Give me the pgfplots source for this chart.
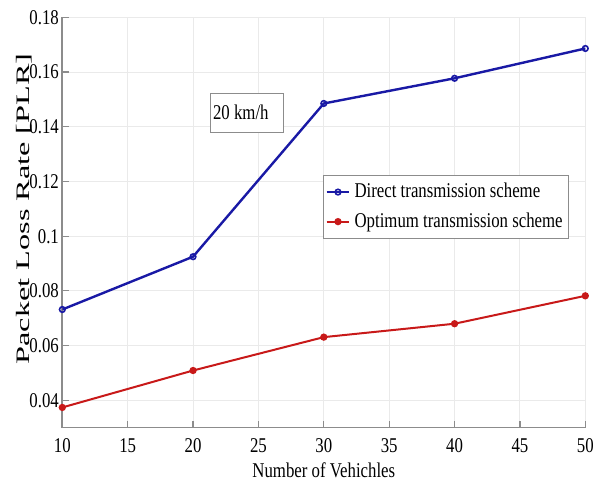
\documentclass[border=0pt]{standalone}
\usepackage{fontspec}
\setmainfont[FakeStretch=0.8]{Liberation Serif}
\newfontfamily\ylabfont{Liberation Serif}
\usepackage{graphicx}
\usepackage{pgfplots}
\pgfplotsset{compat=1.18}
\definecolor{lblue}{RGB}{25,25,165}
\definecolor{lred}{RGB}{200,25,25}
\definecolor{gridc}{RGB}{234,234,234}
\definecolor{axc}{RGB}{140,140,140}
\begin{document}
\begin{tikzpicture}
\path[use as bounding box] (-31.15pt,-28.65pt) rectangle (267.35pt,213.85pt);
\begin{axis}[
  scale only axis,
  width=261.5pt, height=205.2pt,
  xmin=10, xmax=50, ymin=0.03, ymax=0.18,
  xtick={10,15,...,50},
  ytick={0.04,0.06,...,0.181},
  axis x line*=bottom, axis y line*=left,
  axis line style={axc, line width=0.8pt, -},
  grid=major,
  major grid style={gridc, line width=0.5pt},
  tick align=inside,
  major tick length=3.2pt,
  x tick style={axc, line width=0.6pt},
  y tick style={axc, line width=0.6pt},
  tick label style={font=\fontsize{10.5}{12}\selectfont, /pgf/number format/assume math mode=true},
  scaled y ticks=false,
  yticklabel style={/pgf/number format/fixed, /pgf/number format/precision=2, inner xsep=1.5pt},
  xticklabel style={yshift=-1.9pt},
  xlabel={Number of Vehichles},
  xlabel style={at={(rel axis cs:0.5,0)}, anchor=north, yshift=-14.2pt, font=\fontsize{10.5}{12}\selectfont},
  ylabel={\scalebox{1.7}[1]{\ylabfont\fontsize{9.5}{11}\selectfont Packet Loss Rate [PLR]}},
  every axis y label/.style={at={(rel axis cs:-0.0723,0.533)}, rotate=90, anchor=center},
  legend style={at={(rel axis cs:0.969,0.616)}, anchor=north east, draw=axc, fill=white,
    font=\fontsize{10.5}{12}\selectfont, row sep=2pt, inner xsep=1pt, inner ysep=2pt},
  legend cell align=left,
  legend image code/.code={\draw[mark repeat=2,mark phase=2] plot coordinates {(0cm,0cm) (0.2cm,0cm) (0.4cm,0cm)};},
]
\addplot[lblue, line width=1.2pt, mark=o, mark size=1.4pt, mark options={line width=0.8pt}]
  coordinates {(10,0.0732) (20,0.0925) (30,0.1485) (40,0.1577) (50,0.1686)};
\addlegendentry{Direct transmission scheme}
\addplot[lred, line width=1.0pt, mark=*, mark size=1.3pt]
  coordinates {(10,0.0374) (20,0.0509) (30,0.0631) (40,0.0680) (50,0.0782)};
\addlegendentry{Optimum transmission scheme}
\node[draw=axc, fill=white, anchor=north west, minimum height=19.5pt, inner xsep=1.3pt, font=\fontsize{10.5}{12}\selectfont] at (axis cs:21.3,0.1524) {\makebox[33.9pt][l]{20 km/h}};
\end{axis}
\end{tikzpicture}
\end{document}
